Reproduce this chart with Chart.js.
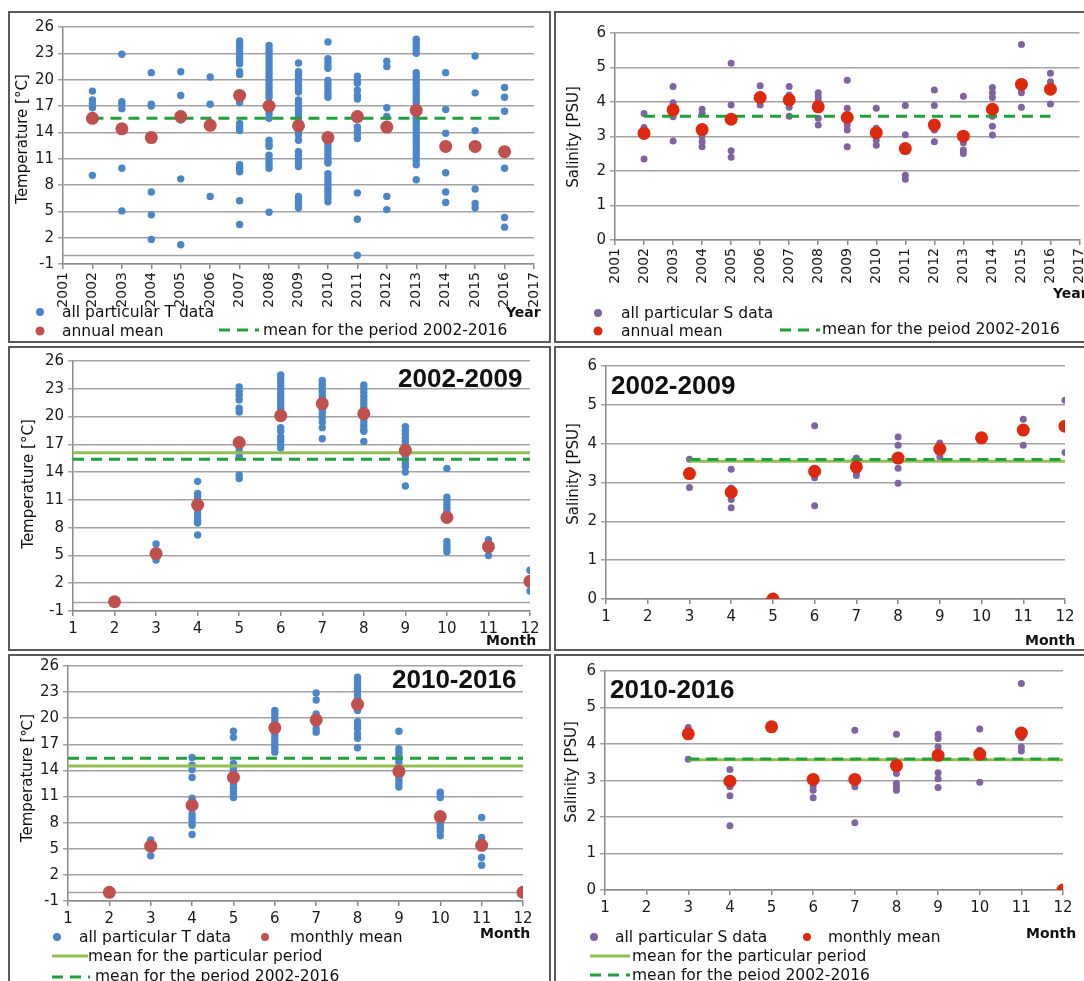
<!DOCTYPE html>
<html>
<head>
<meta charset="utf-8">
<script src="https://cdn.jsdelivr.net/npm/chart.js@4.4.1/dist/chart.umd.min.js"></script>
<style>
body { margin: 0; background: #fff; width: 1084px; height: 981px; overflow: hidden; position: relative; font-family: 'DejaVu Sans', sans-serif; color: #111; }
.panel { position: absolute; background: #fff; }
.panel canvas { position: absolute; left: 0; top: 0; }
.frame { position: absolute; left: 0; top: 0; right: 0; bottom: 0; border: 2px solid #5a5a5a; box-sizing: border-box; pointer-events: none; }
.txt { position: absolute; white-space: nowrap; font-size: 15.5px; line-height: 18px; transform: translateY(-50%); }
.bold { font-weight: bold; font-size: 14px; }
.big { font-family: 'Liberation Sans', sans-serif; font-weight: bold; font-size: 26px; line-height: 28px; }
.ytitle { position: absolute; white-space: nowrap; font-size: 15px; transform: translate(-50%, -50%) rotate(-90deg); }
.dot { position: absolute; border-radius: 50%; transform: translate(-50%, -50%); }
.solid { position: absolute; height: 3px; background: #92c050; transform: translateY(-50%); }
.dash { position: absolute; height: 3px; transform: translateY(-50%);
  background: repeating-linear-gradient(90deg, #1fa23a 0 11px, transparent 11px 18px); }
</style>
</head>
<body>

<div class="panel" style="left:8px;top:11px;width:543px;height:332px"><canvas id="tYearChart" width="543" height="332"></canvas><div class="frame"></div></div>
<div class="panel" style="left:554px;top:11px;width:532px;height:332px"><canvas id="sYearChart" width="532" height="332"></canvas><div class="frame"></div></div>
<div class="panel" style="left:8px;top:346px;width:543px;height:305px"><canvas id="tEarlyChart" width="543" height="305"></canvas><div class="frame"></div></div>
<div class="panel" style="left:554px;top:346px;width:532px;height:305px"><canvas id="sEarlyChart" width="532" height="305"></canvas><div class="frame"></div></div>
<div class="panel" style="left:8px;top:654px;width:543px;height:330px"><canvas id="tLateChart" width="543" height="330"></canvas><div class="frame"></div></div>
<div class="panel" style="left:554px;top:654px;width:532px;height:330px"><canvas id="sLateChart" width="532" height="330"></canvas><div class="frame"></div></div>

<!-- axis titles -->
<div class="ytitle" style="left:22px;top:139px">Temperature [°C]</div>
<div class="ytitle" style="left:573px;top:137px">Salinity [PSU]</div>
<div class="ytitle" style="left:28px;top:484px">Temperature [°C]</div>
<div class="ytitle" style="left:573px;top:474px">Salinity [PSU]</div>
<div class="ytitle" style="left:27px;top:778px">Temperature [℃]</div>
<div class="ytitle" style="left:571px;top:772px">Salinity [PSU]</div>

<div class="txt bold" style="left:506px;top:312px">Year</div>
<div class="txt bold" style="left:1053px;top:293px">Year</div>
<div class="txt bold" style="left:486px;top:640px">Month</div>
<div class="txt bold" style="left:1025px;top:640px">Month</div>
<div class="txt bold" style="left:480px;top:933px">Month</div>
<div class="txt bold" style="left:1026px;top:933px">Month</div>

<div class="txt big" style="left:398px;top:378px">2002-2009</div>
<div class="txt big" style="left:611px;top:385px">2002-2009</div>
<div class="txt big" style="left:392px;top:679px">2010-2016</div>
<div class="txt big" style="left:610px;top:689px">2010-2016</div>

<!-- legends -->
<div class="dot" style="left:40px;top:312px;width:8px;height:8px;background:#4a86c8"></div>
<div class="txt" style="left:62px;top:312px">all particular T data</div>
<div class="dot" style="left:40px;top:331px;width:9px;height:9px;background:#c0504d"></div>
<div class="txt" style="left:62px;top:331px">annual mean</div>
<div class="dash" style="left:219px;top:330px;width:40px"></div>
<div class="txt" style="left:263px;top:330px">mean for the period 2002-2016</div>

<div class="dot" style="left:598px;top:313px;width:8px;height:8px;background:#8064a2"></div>
<div class="txt" style="left:621px;top:313px">all particular S data</div>
<div class="dot" style="left:598px;top:331px;width:9px;height:9px;background:#dd2a0f"></div>
<div class="txt" style="left:621px;top:331px">annual mean</div>
<div class="dash" style="left:780px;top:330px;width:40px"></div>
<div class="txt" style="left:822px;top:329px">mean for the peiod 2002-2016</div>

<div class="dot" style="left:57px;top:937px;width:8px;height:8px;background:#4a86c8"></div>
<div class="txt" style="left:79px;top:937px">all particular T data</div>
<div class="dot" style="left:265px;top:937px;width:8px;height:8px;background:#c0504d"></div>
<div class="txt" style="left:290px;top:937px">monthly mean</div>
<div class="solid" style="left:52px;top:956px;width:36px"></div>
<div class="txt" style="left:88px;top:956px">mean for the particular period</div>
<div class="dash" style="left:52px;top:977px;width:38px"></div>
<div class="txt" style="left:95px;top:976px">mean for the period 2002-2016</div>

<div class="dot" style="left:594px;top:937px;width:8px;height:8px;background:#8064a2"></div>
<div class="txt" style="left:615px;top:937px">all particular S data</div>
<div class="dot" style="left:807px;top:937px;width:8px;height:8px;background:#dd2a0f"></div>
<div class="txt" style="left:828px;top:937px">monthly mean</div>
<div class="solid" style="left:590px;top:956px;width:40px"></div>
<div class="txt" style="left:632px;top:956px">mean for the particular period</div>
<div class="dash" style="left:590px;top:975px;width:40px"></div>
<div class="txt" style="left:632px;top:975px">mean for the peiod 2002-2016</div>

<script>
// ---- ticks ----
var yearTicks = [2001, 2002, 2003, 2004, 2005, 2006, 2007, 2008, 2009, 2010, 2011, 2012, 2013, 2014, 2015, 2016, 2017];
var monthTicks = [1, 2, 3, 4, 5, 6, 7, 8, 9, 10, 11, 12];
var tempTicks = [-1, 2, 5, 8, 11, 14, 17, 20, 23, 26];
var salTicks = [0, 1, 2, 3, 4, 5, 6];

// ---- annual data 2002-2016 ----
var years = [2002, 2003, 2004, 2005, 2006, 2007, 2008, 2009, 2010, 2011, 2012, 2013, 2014, 2015, 2016];
var yearSpan = [2002, 2016];

var tYearAll = [
    [18.7, 17.7, 17.3, 16.8, 9.1],
    [22.9, 17.5, 17.2, 16.7, 9.9, 5.05],
    [20.8, 17.2, 17.0, 7.2, 4.6, 1.8],
    [20.9, 18.2, 15.4, 8.7, 1.2],
    [20.3, 17.2, 6.7],
    [24.4, 24.0, 23.6, 23.2, 22.9, 22.5, 22.1, 21.8, 20.9, 20.6, 17.4, 15.0, 14.7, 14.4, 14.2, 10.3, 10.0, 9.7, 9.5, 6.2, 3.5],
    [23.9, 23.5, 23.1, 22.7, 22.3, 21.9, 21.5, 21.1, 20.7, 20.3, 19.9, 19.5, 19.1, 18.7, 18.3, 18.0, 17.3, 16.9, 16.5, 16.1, 15.6, 13.1, 12.7, 12.4, 11.4, 11.0, 10.6, 10.2, 9.9, 4.9],
    [21.9, 20.9, 20.5, 20.1, 19.7, 19.3, 18.9, 18.6, 17.7, 17.3, 16.9, 16.5, 16.1, 15.7, 15.3, 14.9, 14.5, 14.1, 13.7, 13.1, 11.8, 11.4, 11.0, 10.6, 10.1, 6.7, 6.3, 5.9, 5.4],
    [24.3, 22.4, 22.0, 21.6, 21.3, 19.9, 19.5, 19.1, 18.7, 18.3, 18.0, 13.5, 13.1, 12.7, 12.3, 11.9, 11.5, 11.1, 10.7, 10.5, 9.3, 8.9, 8.5, 8.1, 7.7, 7.3, 6.9, 6.5, 6.1],
    [20.4, 19.9, 19.6, 18.8, 18.2, 17.8, 14.6, 14.2, 13.8, 13.3, 7.1, 4.1, 0.0],
    [22.1, 21.5, 16.8, 15.8, 6.7, 5.2],
    [24.6, 24.2, 23.8, 23.4, 23.0, 20.8, 20.4, 20.0, 19.6, 19.2, 18.8, 18.4, 18.0, 17.6, 17.3, 15.6, 15.2, 14.8, 14.4, 14.0, 13.6, 13.2, 12.8, 12.4, 12.0, 11.6, 11.2, 10.8, 10.3, 8.6],
    [20.8, 16.6, 13.9, 9.4, 7.2, 6.0],
    [22.7, 18.5, 14.2, 7.55, 5.9, 5.4],
    [19.1, 18.0, 16.4, 9.9, 4.3, 3.2]
];
var tYearMean = [15.6, 14.4, 13.4, 15.8, 14.8, 18.2, 17.0, 14.75, 13.4, 15.8, 14.6, 16.5, 12.4, 12.4, 11.8];
var tPeriodMean = 15.6;

var sYearAll = [
    [3.67, 3.26, 3.2, 2.35],
    [4.45, 3.98, 3.86, 3.62, 3.57, 2.87],
    [3.79, 3.67, 3.0, 2.85, 2.7],
    [5.12, 3.91, 2.59, 2.4],
    [4.47, 4.06, 3.91],
    [4.45, 4.2, 3.96, 3.85, 3.59],
    [4.27, 4.15, 4.06, 3.53, 3.33],
    [4.63, 3.82, 3.33, 3.19, 2.7],
    [3.82, 3.24, 2.9, 2.75],
    [3.9, 3.05, 1.88, 1.76],
    [4.35, 3.9, 3.19, 2.85],
    [4.17, 2.82, 2.61, 2.51],
    [4.42, 4.27, 4.13, 3.59, 3.3, 3.04],
    [5.67, 4.4, 4.27, 3.85],
    [4.83, 4.59, 3.94]
];
var sYearMean = [3.09, 3.77, 3.2, 3.5, 4.13, 4.06, 3.86, 3.55, 3.11, 2.65, 3.33, 3.01, 3.79, 4.51, 4.37];
var sPeriodMean = 3.59;

// ---- monthly data ----
var dataMonths = [3, 4, 5, 6, 7, 8, 9, 10, 11, 12];
var meanMonthsT = [2, 3, 4, 5, 6, 7, 8, 9, 10, 11, 12];
var tMonthSpan = [1, 12];
var sMonthSpan = [3, 12];
var tAllPeriodMean = 15.4;

// temperature 2002-2009 (months 3..12)
var tEarlyAll = [
    [6.24, 5.2, 4.8, 4.5],
    [13.0, 11.7, 11.3, 10.9, 10.5, 10.1, 9.6, 9.2, 8.8, 8.5, 7.2],
    [23.2, 22.7, 22.3, 21.8, 20.9, 20.5, 17.2, 16.6, 16.2, 15.7, 13.7, 13.3],
    [24.5, 24.1, 23.7, 23.3, 22.9, 22.5, 22.1, 21.7, 21.3, 20.9, 20.5, 18.8, 18.4, 17.8, 17.4, 17.0, 16.6],
    [23.9, 23.5, 23.1, 22.7, 22.3, 21.9, 21.5, 21.1, 20.7, 20.3, 19.9, 19.4, 18.8, 17.6],
    [23.4, 23.0, 22.6, 22.2, 21.8, 21.4, 21.0, 20.6, 20.2, 19.8, 19.4, 19.0, 18.6, 18.4, 17.3],
    [18.9, 18.5, 18.1, 17.7, 17.3, 16.9, 15.8, 15.4, 15.0, 14.6, 14.0, 12.5],
    [14.4, 11.3, 10.9, 10.5, 10.1, 9.7, 6.5, 6.1, 5.8, 5.4],
    [6.7, 6.3, 5.0],
    [3.4, 2.2, 1.16]
];
var tEarlyMean = [0, 5.2, 10.45, 17.2, 20.1, 21.4, 20.3, 16.35, 9.1, 5.95, 2.2];
var tEarlyPeriod = 16.1;

// salinity 2002-2009 (months 3..12)
var sEarlyAll = [
    [3.6, 2.87],
    [3.34, 2.86, 2.71, 2.56, 2.35],
    [],
    [4.46, 3.12, 2.4],
    [3.63, 3.53, 3.27, 3.18],
    [4.17, 3.96, 3.37, 2.98],
    [4.02, 3.66],
    [4.15],
    [4.63, 3.96],
    [5.12, 3.77]
];
var sEarlyMean = [3.23, 2.75, 0, 3.29, 3.4, 3.63, 3.86, 4.15, 4.35, 4.45];
var sEarlyPeriod = 3.55;

// temperature 2010-2016 (months 3..12)
var tLateAll = [
    [6.0, 5.6, 4.2],
    [15.5, 14.6, 14.1, 13.2, 10.8, 10.4, 10.0, 9.8, 9.0, 8.6, 8.2, 7.7, 6.65],
    [18.5, 17.8, 14.8, 14.4, 14.0, 13.6, 13.2, 12.8, 12.4, 12.0, 11.6, 11.2, 10.9],
    [20.9, 20.5, 20.1, 19.7, 19.3, 18.9, 18.5, 18.1, 17.7, 17.3, 16.9, 16.5, 16.1],
    [22.9, 22.1, 20.5, 20.1, 19.7, 19.3, 18.8, 18.4],
    [24.7, 24.3, 23.9, 23.5, 23.1, 22.7, 22.3, 21.9, 21.5, 21.1, 20.9, 19.6, 19.2, 18.8, 18.2, 17.7, 16.6],
    [18.5, 16.5, 16.1, 15.7, 15.3, 14.9, 14.5, 14.1, 13.7, 13.3, 12.9, 12.5, 12.1],
    [11.5, 11.2, 10.9, 8.6, 8.2, 7.8, 7.4, 7.0, 6.5],
    [8.6, 6.3, 5.9, 5.6, 4.0, 3.1],
    []
];
var tLateMean = [0, 5.3, 10.0, 13.2, 18.9, 19.8, 21.6, 13.9, 8.7, 5.4, 0];
var tLatePeriod = 14.5;

// salinity 2010-2016 (months 3..12)
var sLateAll = [
    [4.45, 3.58],
    [3.3, 2.97, 2.83, 2.58, 1.76],
    [4.47],
    [2.97, 2.85, 2.73, 2.53],
    [4.38, 2.83, 1.84],
    [4.27, 3.19, 2.92, 2.83, 2.73],
    [4.27, 4.15, 3.92, 3.21, 3.05, 2.81],
    [4.41, 3.83, 2.95],
    [5.66, 4.17, 3.92, 3.81],
    []
];
var sLateMean = [4.28, 2.98, 4.47, 3.03, 3.03, 3.41, 3.69, 3.72, 4.3, 0];
var sLatePeriod = 3.57;

// ---- colours ----
var blue = '#4a86c8';
var brick = '#c0504d';
var purple = '#8064a2';
var red = '#dd2a0f';
var darkGreen = '#1fa23a';
var lightGreen = '#92c050';
var gridGray = '#a3a3a3';

Chart.defaults.font.family = "'DejaVu Sans', sans-serif";
Chart.defaults.color = '#1a1a1a';

function toPoints(xs, groups) {
    var pts = [];
    xs.forEach(function (x, i) {
        groups[i].forEach(function (v) { pts.push({ x: x, y: v }); });
    });
    return pts;
}
function pairs(xs, ys) {
    return xs.map(function (x, i) { return { x: x, y: ys[i] }; });
}
function hline(span, v) {
    return span.map(function (x) { return { x: x, y: v }; });
}

// thin line at 0 on the temperature panels
var zeroLine = {
    id: 'zeroLine',
    beforeDatasetsDraw: function (chart) {
        var y = chart.scales.y;
        if (y.min >= 0) return;
        var a = chart.chartArea, ctx = chart.ctx;
        var py = Math.round(y.getPixelForValue(0)) + 0.5;
        ctx.save();
        ctx.strokeStyle = gridGray;
        ctx.lineWidth = 1.5;
        ctx.beginPath();
        ctx.moveTo(a.left, py);
        ctx.lineTo(a.right, py);
        ctx.stroke();
        ctx.restore();
    }
};

function makeChart(id, box, xTicks, yTicks, rotate, datasets) {
    var canvas = document.getElementById(id);
    return new Chart(canvas.getContext('2d'), {
        type: 'scatter',
        data: { datasets: datasets },
        options: {
            responsive: false,
            animation: false,
            events: [],
            layout: { padding: { left: 0, top: box.top, right: box.w - box.right, bottom: 0 } },
            plugins: { legend: { display: false }, tooltip: { enabled: false } },
            scales: {
                x: {
                    type: 'linear',
                    min: xTicks[0],
                    max: xTicks[xTicks.length - 1],
                    afterBuildTicks: function (s) { s.ticks = xTicks.map(function (v) { return { value: v }; }); },
                    afterFit: function (s) { s.height = box.h - box.bottom; s.paddingLeft = 0; s.paddingRight = 0; },
                    ticks: {
                        autoSkip: false,
                        minRotation: rotate ? 90 : 0,
                        maxRotation: rotate ? 90 : 0,
                        padding: rotate ? 3 : 4,
                        font: { size: rotate ? 14 : 15 },
                        callback: function (v) { return String(v); }
                    },
                    grid: { drawOnChartArea: false, color: '#8a8a8a', tickLength: 5, lineWidth: 1.5 },
                    border: { color: '#8a8a8a', width: 1.5 }
                },
                y: {
                    min: yTicks[0],
                    max: yTicks[yTicks.length - 1],
                    afterBuildTicks: function (s) { s.ticks = yTicks.map(function (v) { return { value: v }; }); },
                    afterFit: function (s) { s.width = box.left; s.paddingTop = 0; s.paddingBottom = 0; },
                    ticks: { padding: 4, font: { size: 15 } },
                    grid: { color: gridGray, lineWidth: 1.5, tickLength: 5 },
                    border: { color: '#8a8a8a', width: 1.5 }
                }
            }
        },
        plugins: [zeroLine]
    });
}

function meanSet(data, color) {
    return { data: data, backgroundColor: color, borderColor: color, pointRadius: 6.5, pointBorderWidth: 0 };
}
function rawSet(data, color, r) {
    return { data: data, backgroundColor: color, borderColor: color, pointRadius: r, pointBorderWidth: 0 };
}
function lineSet(data, color, dashed) {
    return {
        data: data, showLine: true, pointRadius: 0, borderColor: color, borderWidth: 3,
        borderDash: dashed ? [11, 7] : [], backgroundColor: color
    };
}

// Temperature per year
makeChart('tYearChart', { left: 55, right: 526, top: 16, bottom: 253, w: 543, h: 332 }, yearTicks, tempTicks, true, [
    meanSet(pairs(years, tYearMean), brick),
    lineSet(hline(yearSpan, tPeriodMean), darkGreen, true),
    rawSet(toPoints(years, tYearAll), blue, 3.7)
]);

// Salinity per year
makeChart('sYearChart', { left: 61, right: 526, top: 22, bottom: 229, w: 532, h: 332 }, yearTicks, salTicks, true, [
    meanSet(pairs(years, sYearMean), red),
    lineSet(hline(yearSpan, sPeriodMean), darkGreen, true),
    rawSet(toPoints(years, sYearAll), purple, 3.5)
]);

// Temperature per month 2002-2009
makeChart('tEarlyChart', { left: 65, right: 522, top: 15, bottom: 265, w: 543, h: 305 }, monthTicks, tempTicks, false, [
    meanSet(pairs(meanMonthsT, tEarlyMean), brick),
    lineSet(hline(tMonthSpan, tAllPeriodMean), darkGreen, true),
    lineSet(hline(tMonthSpan, tEarlyPeriod), lightGreen, false),
    rawSet(toPoints(dataMonths, tEarlyAll), blue, 3.7)
]);

// Salinity per month 2002-2009
makeChart('sEarlyChart', { left: 52, right: 511, top: 20, bottom: 253, w: 532, h: 305 }, monthTicks, salTicks, false, [
    meanSet(pairs(dataMonths, sEarlyMean), red),
    lineSet(hline(sMonthSpan, sPeriodMean), darkGreen, true),
    lineSet(hline(sMonthSpan, sEarlyPeriod), lightGreen, false),
    rawSet(toPoints(dataMonths, sEarlyAll), purple, 3.5)
]);

// Temperature per month 2010-2016
makeChart('tLateChart', { left: 60, right: 515, top: 12, bottom: 247, w: 543, h: 330 }, monthTicks, tempTicks, false, [
    meanSet(pairs(meanMonthsT, tLateMean), brick),
    lineSet(hline(tMonthSpan, tAllPeriodMean), darkGreen, true),
    lineSet(hline(tMonthSpan, tLatePeriod), lightGreen, false),
    rawSet(toPoints(dataMonths, tLateAll), blue, 3.7)
]);

// Salinity per month 2010-2016
makeChart('sLateChart', { left: 51, right: 509, top: 17, bottom: 236, w: 532, h: 330 }, monthTicks, salTicks, false, [
    meanSet(pairs(dataMonths, sLateMean), red),
    lineSet(hline(sMonthSpan, sPeriodMean), darkGreen, true),
    lineSet(hline(sMonthSpan, sLatePeriod), lightGreen, false),
    rawSet(toPoints(dataMonths, sLateAll), purple, 3.5)
]);
</script>
</body>
</html>
